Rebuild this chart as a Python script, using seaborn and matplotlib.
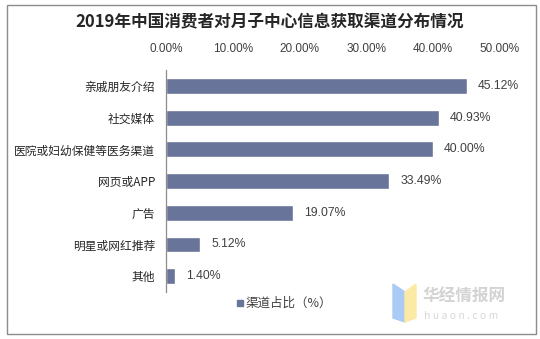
import matplotlib
matplotlib.use("Agg")
import matplotlib.pyplot as plt
import seaborn as sns
import pandas as pd
from matplotlib.patches import Rectangle, Polygon

categories = ["亲戚朋友介绍", "社交媒体", "医院或妇幼保健等医务渠道", "网页或APP",
              "广告", "明星或网红推荐", "其他"]
values = [45.12, 40.93, 40.00, 33.49, 19.07, 5.12, 1.40]
xticks = [0, 10, 20, 30, 40, 50]
series_name = "渠道占比（%）"
title = "2019年中国消费者对月子中心信息获取渠道分布情况"

sns.set_theme(style="white")
plt.rcParams['font.family'] = ['Noto Sans CJK SC', 'DejaVu Sans']

df = pd.DataFrame({"cat": categories, "val": values, "series": series_name})

fig = plt.figure(figsize=(5.4, 3.39), dpi=100)
ax = fig.add_axes([166/540, 1-292/339, (499.5-166)/540, (292-70)/339])

bar_color = "#687499"
sns.barplot(data=df, x="val", y="cat", hue="series", palette=[bar_color],
            width=0.5, ax=ax, legend=False, saturation=1)

ax.set_xlim(0, 50)
ax.set_xticks(xticks)
ax.set_xticklabels([f"{t:.2f}%" for t in xticks], fontsize=8.5, color="#404040",
                   family=['Liberation Sans', 'DejaVu Sans'])
ax.xaxis.tick_top()
ax.tick_params(axis='x', length=0, pad=11)
ax.tick_params(axis='y', length=0, pad=8, labelsize=8.5, labelcolor="#262626")
ax.set_xlabel("")
ax.set_ylabel("")
for s in ["top", "right", "bottom"]:
    ax.spines[s].set_visible(False)
ax.spines["left"].set_color("#8c8c8c")
ax.spines["left"].set_linewidth(0.9)

for cont in ax.containers:
    ax.bar_label(cont, labels=[f"{v:.2f}%" for v in values], padding=8,
                 fontsize=8.8, color="#404040", family=['Liberation Sans', 'DejaVu Sans'])

fig.text(270/540, 1-22/339, title, ha="center", va="center", fontsize=12,
         fontweight="bold", color="#262626")

# legend
fig.patches.append(Rectangle((237/540, 1-306/339), 6/540, 6/339, transform=fig.transFigure,
                             color=bar_color))
fig.text(245/540, 1-303/339, series_name, ha="left", va="center", fontsize=9, color="#404040")

# watermark
fig.patches.append(Polygon([(393/540, 1-284/339), (405/540, 1-292/339), (405/540, 1-322/339),
                            (393/540, 1-318/339)], closed=True, transform=fig.transFigure,
                           color="#a9cbf5"))
fig.patches.append(Polygon([(405/540, 1-292/339), (416/540, 1-284/339), (416/540, 1-318/339),
                            (405/540, 1-322/339)], closed=True, transform=fig.transFigure,
                           color="#fbeaa6"))
fig.text(423/540, 1-297/339, "华经情报网", ha="left", va="center", fontsize=12,
         fontweight="bold", color="#d3d3d3")
fig.text(424/540, 1-316/339, "h u a o n . c o m", ha="left", va="center", fontsize=7.5,
         color="#d8d8d8")

# border
fig.patches.append(Rectangle((7/540, 1-334/339), (536-7)/540, (334-5)/339,
                             transform=fig.transFigure, fill=False, edgecolor="#8c8c8c",
                             linewidth=1))

fig.savefig("out.png", dpi=100)
